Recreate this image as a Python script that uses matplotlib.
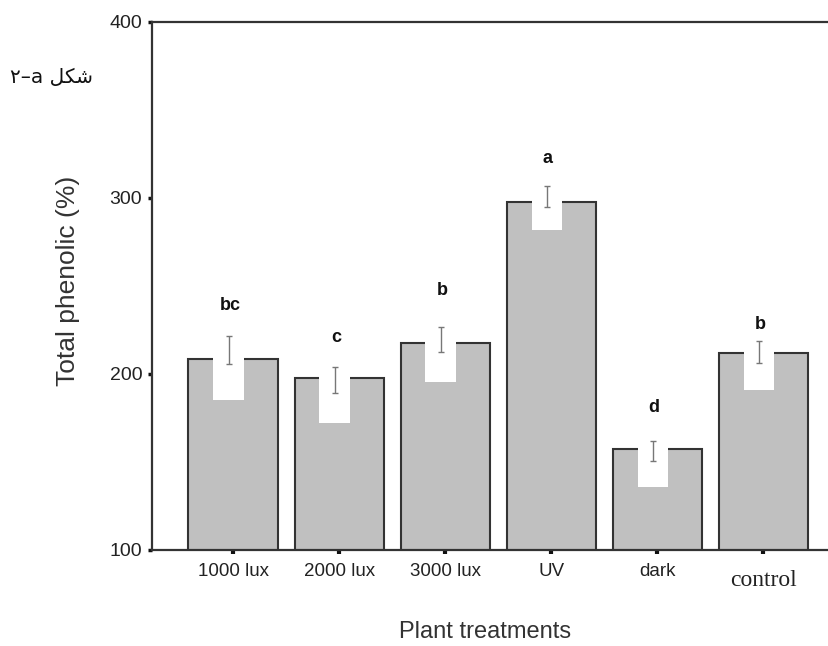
import matplotlib
matplotlib.use('Agg')
import matplotlib.pyplot as plt
import matplotlib.transforms as mtransforms
import numpy as np

# data
treatments = ["1000 lux", "2000 lux", "3000 lux", "UV", "dark", "control"]
phenolic = [208.5, 197.7, 217.6, 297.7, 157.6, 212.0]
err_low = [205.7, 189.2, 212.5, 294.9, 150.6, 206.0]
err_high = [221.6, 204.0, 226.7, 306.8, 161.9, 218.8]
notch_bottom = [185.0, 172.0, 195.5, 281.8, 135.8, 191.0]
letters = ["bc", "c", "b", "a", "d", "b"]
letter_y = [239.0, 221.0, 247.7, 322.5, 181.0, 228.0]
y_ticks = [100, 200, 300, 400]

plt.rcParams['font.family'] = ['Liberation Sans', 'DejaVu Sans']

fig = plt.figure(figsize=(8.29, 6.46), dpi=100)
ax = fig.add_axes([152 / 829, 96 / 646, 1 - 152 / 829, 528 / 646])

x = np.arange(len(treatments))
edge = '#333333'

ax.bar(x, phenolic, width=0.84, color='#c0c0c0', edgecolor=edge, linewidth=1.5, zorder=2)

# white notch cut into the top of each bar
vals = np.array(phenolic)
nb = np.array(notch_bottom)
ax.bar(x - 0.04, vals - nb + 1.6, bottom=nb, width=0.29, color='white',
       edgecolor='none', linewidth=0, zorder=3)

# error bars
lo = np.array(err_low)
hi = np.array(err_high)
ax.errorbar(x - 0.04, (lo + hi) / 2, yerr=(hi - lo) / 2, fmt='none',
            ecolor='#777777', elinewidth=1.0, capsize=2.5, capthick=1.0, zorder=4)

# significance letters
for xi, t, yy in zip(x, letters, letter_y):
    ax.text(xi - 0.03, yy, t, ha='center', va='center', fontsize=13,
            fontweight='bold', color='#111111')

ax.set_ylim(100, 400)
ax.set_xlim(-0.764, 5.62)
ax.set_yticks(y_ticks)
ax.set_yticklabels([str(v) for v in y_ticks])
ax.set_xticks(x)
ax.set_xticklabels(treatments)

for s in ['left', 'bottom', 'top']:
    ax.spines[s].set_color(edge)
    ax.spines[s].set_linewidth(1.6)
ax.spines['right'].set_visible(False)

ax.tick_params(axis='y', direction='out', length=3, width=2.5, color='#111111',
               pad=4, labelsize=14, labelcolor='#222222')
ax.tick_params(axis='x', direction='out', length=3, width=3, color='#111111',
               pad=6, labelsize=13.5, labelcolor='#222222')

# "control" label in a serif face, sitting a bit lower
lab = ax.get_xticklabels()[-1]
lab.set_fontfamily('Liberation Serif')
lab.set_fontsize(17)
lab.set_transform(lab.get_transform() +
                  mtransforms.ScaledTranslation(0, -7 / 100, fig.dpi_scale_trans))

fig.text(68 / 829, 1 - 281 / 646, "Total phenolic (%)", rotation=90,
         ha='center', va='center', fontsize=19, color='#333333')
fig.text(485 / 829, 1 - 632 / 646, "Plant treatments",
         ha='center', va='center', fontsize=17, color='#333333')

# figure caption (Arabic script, written in visual order)
fig.text(52 / 829, 1 - 78 / 646, "\u06f2\u2013a \ufede\ufb91\ufeb7",
         ha='center', va='center', fontsize=14.5, family=['DejaVu Sans'],
         color='#111111')

fig.savefig('out.png', dpi=100, facecolor='white')
